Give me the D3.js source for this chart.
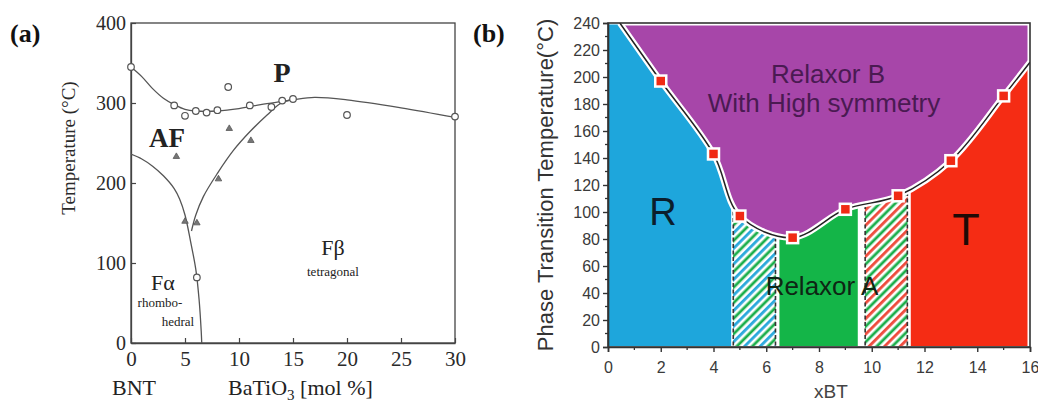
<!DOCTYPE html>
<html><head><meta charset="utf-8">
<script src="https://cdn.jsdelivr.net/npm/d3@7"></script>
<style>body{margin:0;background:#fff}svg{display:block}</style>
</head><body>
<svg id="fig" width="1038" height="404"></svg>
<script>
// ---------- Panel (a): BNT–BaTiO3 phase diagram ----------
const aCircleX = [0, 4, 5, 6, 7, 8, 9, 11, 13, 14, 15, 20, 30, 6.1];
const aCircleT = [345, 297, 284, 290, 288, 291, 320, 297, 295, 303, 305, 285, 283, 82];
const aTriX = [4.2, 5, 6.1, 8.1, 9.1, 11.1];
const aTriT = [233, 152, 150, 205, 268, 253];
// phase boundaries
const aUpperX = [0, 1, 2, 3, 4, 5, 6, 8, 10, 12, 14, 15, 17, 20, 25, 30];
const aUpperT = [345, 333, 318, 306, 298, 292, 290, 290, 293, 298, 302, 304, 307, 304, 294, 282];
const aLeftX = [0, 1, 2, 3, 4, 4.5, 5, 5.5, 6, 6.3, 6.5, 6.55];
const aLeftT = [236, 230, 221, 209, 193, 180, 160, 128, 92, 55, 15, 0];
const aRightX = [5.6, 6, 6.7, 8, 9.5, 11, 12.6, 13.8, 15];
const aRightT = [140, 160, 183, 212, 241, 264, 285, 299, 305];
const aXTicks = [0, 5, 10, 15, 20, 25, 30];
const aYTicks = [0, 100, 200, 300, 400];

// ---------- Panel (b): xBT phase diagram ----------
const bX = [2, 4, 5, 7, 9, 11, 13, 15];
const bT = [197, 143, 97, 81, 102, 112, 138, 186];
const bLineStart = [0.45, 240];
const bLineEnd = [16, 211];
const bXTicks = [0, 2, 4, 6, 8, 10, 12, 14, 16];
const bYTicks = [0, 20, 40, 60, 80, 100, 120, 140, 160, 180, 200, 220, 240];
const bRegionFrom = [0, 4.74, 6.5, 9.74, 11.48];
const bRegionTo = [4.67, 6.36, 9.47, 11.36, 16];
const bRegionFill = ["#1ea6dc", "url(#hatchBG)", "#14b548", "url(#hatchRG)", "#f52c14"];
const bDashX = [4.75, 6.35, 9.75, 11.35];

const serif = "'Liberation Serif','Times New Roman',serif";
const sans = "'Liberation Sans',Arial,sans-serif";

const svg = d3.select("#fig");
svg.append("rect").attr("width", 1038).attr("height", 404).attr("fill", "#fff");

// ===== (a) =====
const xa = d3.scaleLinear([0, 30], [131, 455]);
const ya = d3.scaleLinear([0, 400], [343, 23]);
const ga = svg.append("g");

ga.append("rect").attr("x", xa(0)).attr("y", ya(400))
  .attr("width", xa(30) - xa(0)).attr("height", ya(0) - ya(400))
  .attr("fill", "none").attr("stroke", "#444").attr("stroke-width", 1.3);

const axA = ga.append("g").attr("transform", `translate(0,${ya(0)})`)
  .call(d3.axisBottom(xa).tickValues(aXTicks).tickSizeInner(-5).tickSizeOuter(0).tickPadding(8));
const ayA = ga.append("g").attr("transform", `translate(${xa(0)},0)`)
  .call(d3.axisLeft(ya).tickValues(aYTicks).tickSizeInner(-5).tickSizeOuter(0).tickPadding(5));
[axA, ayA].forEach(g => {
  g.select(".domain").attr("stroke", "#444").attr("stroke-width", 1.3);
  g.selectAll(".tick line").attr("stroke", "#444").attr("stroke-width", 1.2);
  g.selectAll("text").attr("font-family", serif).attr("fill", "#2a2a2a");
});
axA.selectAll("text").attr("font-size", 21);
ayA.selectAll("text").attr("font-size", 20);

const lineA = d3.line().x(d => xa(d[0])).y(d => ya(d[1])).curve(d3.curveCatmullRom.alpha(0.5));
[[aUpperX, aUpperT], [aLeftX, aLeftT], [aRightX, aRightT]].forEach(([xs, ts]) => {
  ga.append("path").attr("d", lineA(d3.zip(xs, ts)))
    .attr("fill", "none").attr("stroke", "#555").attr("stroke-width", 1.3);
});

ga.selectAll("circle.pt").data(d3.zip(aCircleX, aCircleT)).join("circle")
  .attr("cx", d => xa(d[0])).attr("cy", d => ya(d[1])).attr("r", 3.3)
  .attr("fill", "#fff").attr("stroke", "#555").attr("stroke-width", 1.2);
ga.selectAll("path.tri").data(d3.zip(aTriX, aTriT)).join("path")
  .attr("transform", d => `translate(${xa(d[0])},${ya(d[1])})`)
  .attr("d", d3.symbol(d3.symbolTriangle, 18))
  .attr("fill", "#777").attr("stroke", "#555").attr("stroke-width", 0.8);

const txt = (g, x, y, s, size, opts = {}) => g.append("text").attr("x", x).attr("y", y)
  .attr("font-family", opts.family || serif).attr("font-size", size)
  .attr("font-weight", opts.weight || "normal").attr("fill", opts.fill || "#222")
  .attr("text-anchor", opts.anchor || "start").text(s);

txt(svg, 10, 42, "(a)", 26, { weight: "bold", fill: "#111" });
txt(svg, 473, 42, "(b)", 26, { weight: "bold", fill: "#111" });
txt(ga, 282, 82, "P", 28, { weight: "bold", anchor: "middle" });
txt(ga, 167, 147, "AF", 27, { weight: "bold", anchor: "middle" });
txt(ga, 163, 290, "Fα", 22, { anchor: "middle" });
txt(ga, 160, 307, "rhombo-", 13, { anchor: "middle" });
txt(ga, 178, 326, "hedral", 13, { anchor: "middle" });
txt(ga, 333, 255, "Fβ", 22, { anchor: "middle" });
txt(ga, 333, 276, "tetragonal", 13, { anchor: "middle" });
txt(ga, 134, 395, "BNT", 22, { anchor: "middle" });
const bt = txt(ga, 228, 395, "BaTiO", 22);
bt.append("tspan").attr("font-size", 15).attr("dy", 5).text("3");
bt.append("tspan").attr("dy", -5).text(" [mol %]");
ga.append("text").attr("transform", "translate(75,148) rotate(-90)")
  .attr("text-anchor", "middle").attr("font-family", serif).attr("font-size", 19)
  .attr("fill", "#2a2a2a").text("Temperature (°C)");

// ===== (b) =====
const xb = d3.scaleLinear([0, 16], [608, 1030]);
const yb = d3.scaleLinear([0, 240], [347, 23]);
const gb = svg.append("g");
const defs = svg.append("defs");

function hatch(id, c1, c2) {
  const p = defs.append("pattern").attr("id", id).attr("patternUnits", "userSpaceOnUse")
    .attr("width", 11).attr("height", 11).attr("patternTransform", "rotate(45)");
  p.append("rect").attr("width", 11).attr("height", 11).attr("fill", "#fff");
  p.append("rect").attr("x", 0).attr("width", 2.8).attr("height", 11).attr("fill", c1);
  p.append("rect").attr("x", 5.5).attr("width", 2.8).attr("height", 11).attr("fill", c2);
}
hatch("hatchBG", "#2aa8dc", "#1aae4a");
hatch("hatchRG", "#ee4a3c", "#1aae4a");

const boundary = [bLineStart, ...d3.zip(bX, bT), bLineEnd];
const curveB = d3.curveCatmullRom.alpha(0.5);
const lineB = d3.line().x(d => xb(d[0])).y(d => yb(d[1])).curve(curveB);
const areaBelow = d3.area().x(d => xb(d[0])).y0(yb(0) + 5).y1(d => yb(d[1])).curve(curveB);
const areaAbove = d3.area().x(d => xb(d[0])).y0(yb(240) - 5).y1(d => yb(d[1])).curve(curveB);

const cpBelow = defs.append("clipPath").attr("id", "below");
cpBelow.append("path").attr("d", areaBelow(boundary));
cpBelow.append("rect").attr("x", xb(0) - 2).attr("y", yb(240)).attr("width", xb(bLineStart[0]) - xb(0) + 2.5)
  .attr("height", yb(0) - yb(240));
defs.append("clipPath").attr("id", "above").append("path").attr("d", areaAbove(boundary));
defs.append("clipPath").attr("id", "plotB").append("rect")
  .attr("x", xb(0)).attr("y", yb(240)).attr("width", xb(16) - xb(0)).attr("height", yb(0) - yb(240));

// Relaxor B region above the boundary
gb.append("rect").attr("clip-path", "url(#above)")
  .attr("x", xb(0)).attr("y", yb(240) + 2.5).attr("width", xb(16) - xb(0) - 2.5)
  .attr("height", yb(0) - yb(240)).attr("fill", "#a746a9");

// Regions below the boundary
const gBelow = gb.append("g").attr("clip-path", "url(#below)");
gBelow.selectAll("rect.reg").data(d3.range(bRegionFrom.length)).join("rect")
  .attr("x", i => xb(bRegionFrom[i])).attr("y", yb(240) + 1.5)
  .attr("width", i => Math.min(xb(bRegionTo[i]), xb(16) - 2.5) - xb(bRegionFrom[i]))
  .attr("height", yb(0) - yb(240) - 2.5)
  .attr("fill", i => bRegionFill[i]);
gBelow.selectAll("line.dash").data(bDashX).join("line")
  .attr("x1", d => xb(d)).attr("x2", d => xb(d)).attr("y1", yb(240)).attr("y2", yb(0))
  .attr("stroke", "#333").attr("stroke-width", 1.6).attr("stroke-dasharray", "4,2.5");

// boundary line with white halo and square markers
const gLine = gb.append("g").attr("clip-path", "url(#plotB)");
gLine.append("path").attr("d", lineB(boundary)).attr("fill", "none")
  .attr("stroke", "#fff").attr("stroke-width", 6);
gLine.append("path").attr("d", lineB(boundary)).attr("fill", "none")
  .attr("stroke", "#222").attr("stroke-width", 1.5);
gb.selectAll("rect.mk").data(d3.zip(bX, bT)).join("rect")
  .attr("x", d => xb(d[0]) - 5.5).attr("y", d => yb(d[1]) - 5.5)
  .attr("width", 11).attr("height", 11)
  .attr("fill", "#f02a14").attr("stroke", "#fff").attr("stroke-width", 2.5);

// frame and axes
gb.append("rect").attr("x", xb(0)).attr("y", yb(240))
  .attr("width", xb(16) - xb(0)).attr("height", yb(0) - yb(240))
  .attr("fill", "none").attr("stroke", "#333").attr("stroke-width", 1.6);
const axB = gb.append("g").attr("transform", `translate(0,${yb(0)})`)
  .call(d3.axisBottom(xb).tickValues(bXTicks).tickSize(5).tickPadding(10));
const ayB = gb.append("g").attr("transform", `translate(${xb(0)},0)`)
  .call(d3.axisLeft(yb).tickValues(bYTicks).tickSize(5).tickPadding(3));
// minor ticks
axB.selectAll("line.minor").data(d3.range(1, 16, 2)).join("line")
  .attr("x1", d => xb(d)).attr("x2", d => xb(d)).attr("y1", 0).attr("y2", 3)
  .attr("stroke", "#333").attr("stroke-width", 1.3);
ayB.selectAll("line.minor").data(d3.range(10, 240, 20)).join("line")
  .attr("y1", d => yb(d)).attr("y2", d => yb(d)).attr("x1", 0).attr("x2", -3)
  .attr("stroke", "#333").attr("stroke-width", 1.3);
[axB, ayB].forEach(g => {
  g.select(".domain").attr("stroke", "#333").attr("stroke-width", 1.6);
  g.selectAll(".tick line").attr("stroke", "#333").attr("stroke-width", 1.4);
  g.selectAll("text").attr("font-family", sans).attr("font-size", 16).attr("fill", "#3a3a3a");
});

txt(gb, 828, 83, "Relaxor B", 26, { family: sans, anchor: "middle", fill: "#4a1a52" });
txt(gb, 824, 112, "With High symmetry", 26, { family: sans, anchor: "middle", fill: "#4a1a52" });
txt(gb, 663, 225, "R", 38, { family: sans, anchor: "middle", fill: "#0b1e2c" });
txt(gb, 966, 245, "T", 45, { family: sans, anchor: "middle", fill: "#1e0a06" });
txt(gb, 822, 295, "Relaxor A", 26, { family: sans, anchor: "middle", fill: "#0e2614" });
txt(gb, 831, 398, "xBT", 19, { family: sans, anchor: "middle", fill: "#444" });
gb.append("text").attr("transform", "translate(553,185) rotate(-90)")
  .attr("text-anchor", "middle").attr("font-family", sans).attr("font-size", 22)
  .attr("fill", "#333").text("Phase Transition Temperature(°C)");
</script>
</body></html>
